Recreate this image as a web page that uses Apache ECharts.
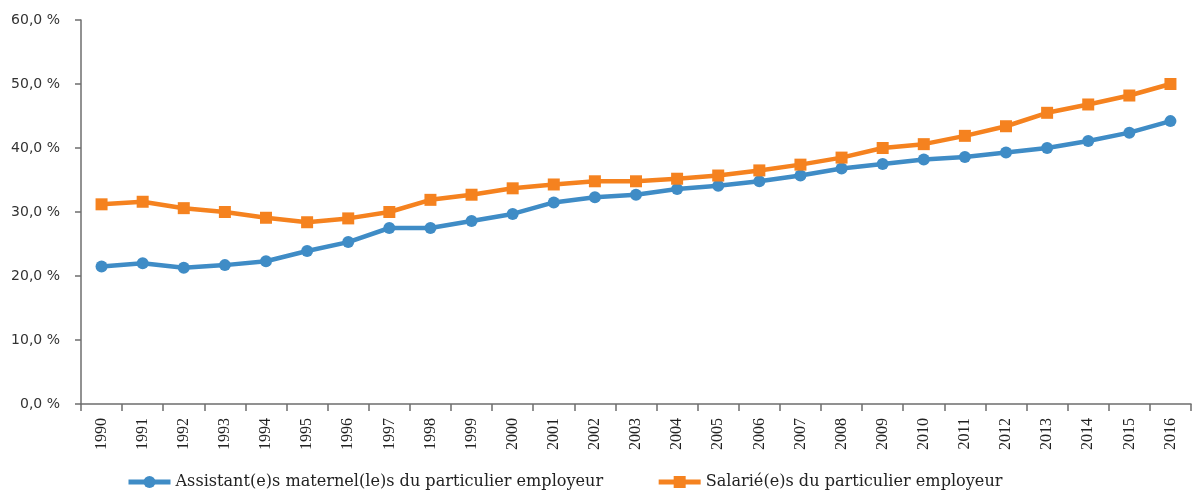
<!DOCTYPE html>
<html>
<head>
<meta charset="utf-8">
<script src="https://cdn.jsdelivr.net/npm/echarts@6/dist/echarts.min.js"></script>
<style>
  html, body { margin: 0; padding: 0; background: #fff; }
  #chart { width: 1197px; height: 492px; }
</style>
</head>
<body>
<div id="chart"></div>
<script>
// Years on the horizontal axis
const years = ['1990','1991','1992','1993','1994','1995','1996','1997','1998','1999',
  '2000','2001','2002','2003','2004','2005','2006','2007','2008','2009',
  '2010','2011','2012','2013','2014','2015','2016'];

// Share (%) for each group of employees
const assistantsMaternels = [21.5, 22.0, 21.3, 21.7, 22.3, 23.9, 25.3, 27.5, 27.5, 28.6,
  29.7, 31.5, 32.3, 32.7, 33.6, 34.1, 34.8, 35.7, 36.8, 37.5,
  38.2, 38.6, 39.3, 40.0, 41.1, 42.4, 44.2];
const salaries = [31.2, 31.6, 30.6, 30.0, 29.1, 28.4, 29.0, 30.0, 31.9, 32.7,
  33.7, 34.3, 34.8, 34.8, 35.2, 35.7, 36.5, 37.4, 38.5, 40.0,
  40.6, 41.9, 43.4, 45.5, 46.8, 48.2, 50.0];

const seriesNames = ['Assistant(e)s maternel(le)s du particulier employeur',
  'Salarié(e)s du particulier employeur'];

// Value axis settings
const yMin = 0, yMax = 60, yStep = 10;

const blue = '#3f8cc6';
const orange = '#f5821f';
const axisGrey = '#6e6e6e';

const chart = echarts.init(document.getElementById('chart'));
chart.setOption({
  animation: false,
  backgroundColor: '#ffffff',
  grid: { left: 81, right: 6, top: 20, bottom: 88 },
  legend: {
    left: 126,
    top: 474,
    padding: 0,
    itemWidth: 42,
    itemHeight: 15,
    itemGap: 53,
    lineStyle: { width: 5 },
    textStyle: { fontFamily: 'DejaVu Serif', fontSize: 16.1, color: '#222' },
    data: seriesNames
  },
  xAxis: {
    type: 'category',
    data: years,
    boundaryGap: true,
    axisLine: { lineStyle: { color: axisGrey, width: 1.5 } },
    axisTick: { show: true, interval: 0, length: 7, lineStyle: { color: axisGrey, width: 1.5 } },
    axisLabel: {
      interval: 0, rotate: 90, margin: 14,
      fontFamily: 'Liberation Serif', fontSize: 16, color: '#222'
    },
    splitLine: { show: false }
  },
  yAxis: {
    type: 'value',
    min: yMin, max: yMax, interval: yStep,
    axisLine: { show: true, lineStyle: { color: axisGrey, width: 1.5 } },
    axisTick: { show: true, length: 6, lineStyle: { color: axisGrey, width: 1.5 } },
    axisLabel: {
      margin: 21,
      fontFamily: 'DejaVu Sans', fontSize: 14, color: '#333',
      formatter: v => v.toFixed(1).replace('.', ',') + ' %'
    },
    splitLine: { show: false }
  },
  series: [
    {
      name: seriesNames[0],
      type: 'line',
      data: assistantsMaternels,
      symbol: 'circle',
      symbolSize: 12,
      itemStyle: { color: blue },
      lineStyle: { color: blue, width: 4.5 }
    },
    {
      name: seriesNames[1],
      type: 'line',
      data: salaries,
      symbol: 'rect',
      symbolSize: 12,
      itemStyle: { color: orange },
      lineStyle: { color: orange, width: 4.5 }
    }
  ]
});
</script>
</body>
</html>
